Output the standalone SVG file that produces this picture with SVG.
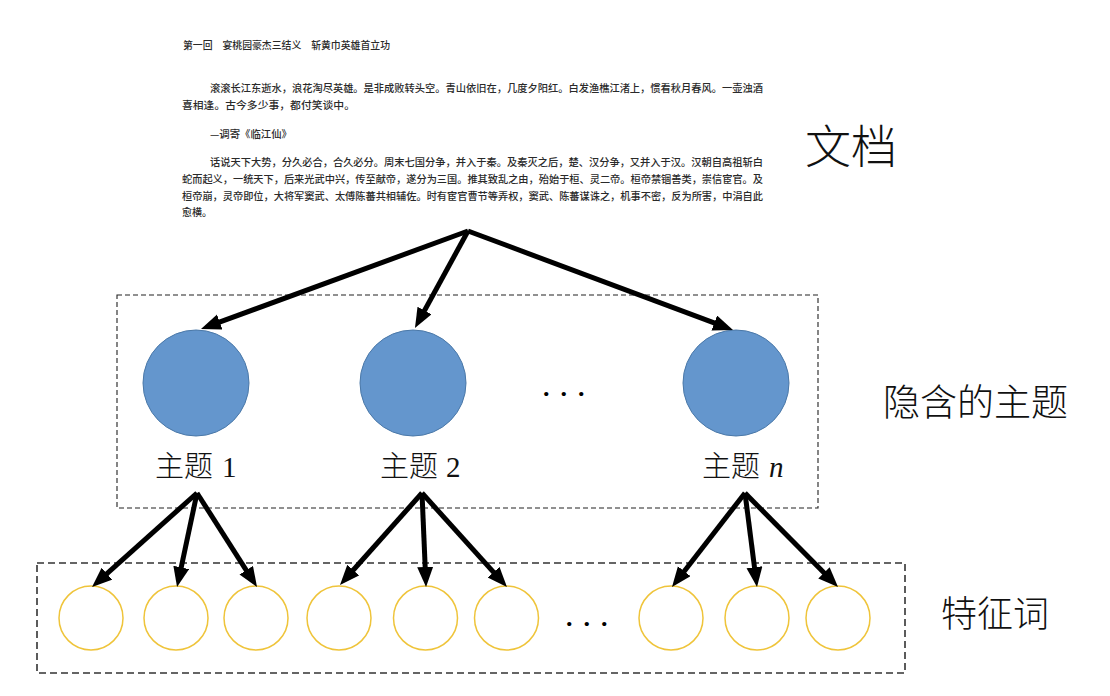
<svg xmlns="http://www.w3.org/2000/svg" width="1110" height="696" viewBox="0 0 1110 696">
<style>
.doc{font-family:"Noto Sans CJK SC","Noto Sans",sans-serif;font-size:10px;fill:#2a2a2a;font-weight:500}
.lbl{font-family:"Noto Sans CJK SC",sans-serif;font-weight:300;fill:#111}
.tl{font-family:"Liberation Serif","Noto Sans CJK SC",serif;font-size:29px;fill:#111}
.topic{fill:#6496CD;stroke:#4a78a8;stroke-width:1}
.word{fill:#fff;stroke:#EFC43A;stroke-width:1.5}
.box1{fill:none;stroke:#222;stroke-width:1.1;stroke-dasharray:5 3}
.box2{fill:none;stroke:#333;stroke-width:1.6;stroke-dasharray:7 4}
.arr{stroke:#000;stroke-width:5;fill:none;marker-end:url(#ah)}
.dots{font-family:"Liberation Serif",serif;font-size:26px;font-weight:bold;fill:#000;letter-spacing:11px}
</style>
<defs>
<marker id="ah" markerUnits="userSpaceOnUse" markerWidth="22" markerHeight="18" refX="12" refY="8" orient="auto">
<path d="M0,0 L20,8 L0,16 z" fill="#000"/>
</marker>
</defs>
<rect width="1110" height="696" fill="#fff"/>

<g id="document">
<text class="doc" x="183" y="49" textLength="207" lengthAdjust="spacingAndGlyphs">第一回　宴桃园豪杰三结义　斩黄巾英雄首立功</text>
<text class="doc" x="210" y="92" textLength="553" lengthAdjust="spacingAndGlyphs">滚滚长江东逝水，浪花淘尽英雄。是非成败转头空。青山依旧在，几度夕阳红。白发渔樵江渚上，惯看秋月春风。一壶浊酒</text>
<text class="doc" x="182" y="109" textLength="173" lengthAdjust="spacingAndGlyphs">喜相逢。古今多少事，都付笑谈中。</text>
<text class="doc" x="210" y="138" textLength="82" lengthAdjust="spacingAndGlyphs">—调寄《临江仙》</text>
<text class="doc" x="210" y="166" textLength="553" lengthAdjust="spacingAndGlyphs">话说天下大势，分久必合，合久必分。周末七国分争，并入于秦。及秦灭之后，楚、汉分争，又并入于汉。汉朝自高祖斩白</text>
<text class="doc" x="182" y="183" textLength="581" lengthAdjust="spacingAndGlyphs">蛇而起义，一统天下，后来光武中兴，传至献帝，遂分为三国。推其致乱之由，殆始于桓、灵二帝。桓帝禁锢善类，崇信宦官。及</text>
<text class="doc" x="182" y="200" textLength="581" lengthAdjust="spacingAndGlyphs">桓帝崩，灵帝即位，大将军窦武、太傅陈蕃共相辅佐。时有宦官曹节等弄权，窦武、陈蕃谋诛之，机事不密，反为所害，中涓自此</text>
<text class="doc" x="182" y="216">愈横。</text>
</g>

<g id="label-doc"><text class="lbl" x="805" y="163" font-size="46">文档</text></g>
<g id="label-topics"><text class="lbl" x="883" y="416" font-size="37">隐含的主题</text></g>
<g id="label-words"><text class="lbl" x="941" y="627" font-size="36">特征词</text></g>

<g id="topic-box"><rect class="box1" x="117" y="295" width="701" height="213"/></g>
<g id="word-box"><rect class="box2" x="37" y="563" width="868" height="110"/></g>

<g id="topic1"><circle class="topic" cx="196" cy="383" r="53"/><text class="tl" x="155" y="477"><tspan class="lbl" font-size="29">主题</tspan><tspan dx="9">1</tspan></text></g>
<g id="topic2"><circle class="topic" cx="413" cy="383" r="53"/><text class="tl" x="380" y="477"><tspan class="lbl" font-size="29">主题</tspan><tspan dx="8">2</tspan></text></g>
<g id="topicn"><circle class="topic" cx="736" cy="383" r="53"/><text class="tl" x="702" y="477"><tspan class="lbl" font-size="29">主题</tspan><tspan font-style="italic" dx="9">n</tspan></text></g>
<g id="topic-dots"><text class="dots" x="543" y="396">...</text></g>

<g id="words">
<circle class="word" cx="91" cy="618" r="32"/>
<circle class="word" cx="176" cy="618" r="32"/>
<circle class="word" cx="256" cy="618" r="32"/>
<circle class="word" cx="339" cy="618" r="32"/>
<circle class="word" cx="425.5" cy="618" r="32"/>
<circle class="word" cx="506.5" cy="618" r="32"/>
<circle class="word" cx="671" cy="618" r="32"/>
<circle class="word" cx="757" cy="618" r="32"/>
<circle class="word" cx="838" cy="618" r="32"/>
<text class="dots" x="566" y="626">...</text>
</g>

<g id="connectors">
<line class="arr" x1="468" y1="231" x2="208.5" y2="326.2"/>
<line class="arr" x1="468" y1="231" x2="418.8" y2="321"/>
<line class="arr" x1="468" y1="231" x2="725.5" y2="327.2"/>
<line class="arr" x1="197" y1="493" x2="98" y2="581.7"/>
<line class="arr" x1="197" y1="493" x2="178.7" y2="579.2"/>
<line class="arr" x1="197" y1="493" x2="252.7" y2="580.3"/>
<line class="arr" x1="422" y1="493" x2="345.3" y2="579"/>
<line class="arr" x1="422" y1="493" x2="425.7" y2="579"/>
<line class="arr" x1="422" y1="493" x2="501.6" y2="581.1"/>
<line class="arr" x1="745" y1="493" x2="676.9" y2="580.7"/>
<line class="arr" x1="745" y1="493" x2="756" y2="579.1"/>
<line class="arr" x1="745" y1="493" x2="832.4" y2="581.3"/>
</g>
</svg>
